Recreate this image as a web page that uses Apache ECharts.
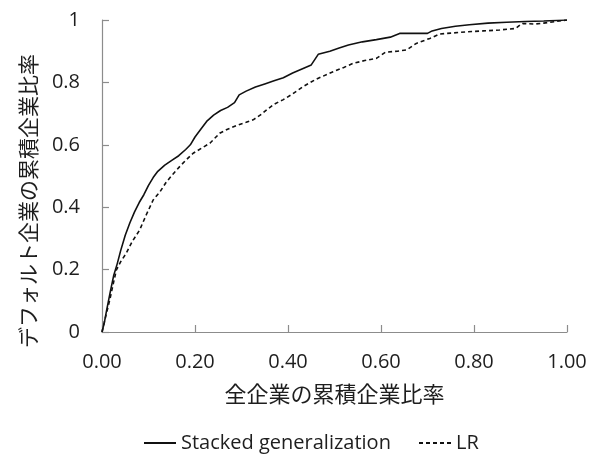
<!DOCTYPE html>
<html>
<head>
<meta charset="utf-8">
<script src="https://cdn.jsdelivr.net/npm/echarts@6/dist/echarts.min.js"></script>
<style>
  html, body { margin: 0; padding: 0; background: #fff; }
  #chart { width: 595px; height: 454px; }
</style>
</head>
<body>
<div id="chart"></div>
<script>
// Cumulative accuracy profile: share of all firms (x) vs share of defaulted firms (y)
const xTicks = [0, 0.2, 0.4, 0.6, 0.8, 1.0];
const yTicks = [0, 0.2, 0.4, 0.6, 0.8, 1.0];

const stackedX = [0, 0.005, 0.01, 0.018, 0.025, 0.033, 0.04, 0.05, 0.06, 0.07, 0.08, 0.09, 0.10, 0.11, 0.12, 0.135, 0.15, 0.165, 0.18, 0.19, 0.20, 0.21, 0.225, 0.24, 0.255, 0.27, 0.285, 0.295, 0.31, 0.33, 0.35, 0.37, 0.39, 0.41, 0.43, 0.45, 0.465, 0.49, 0.51, 0.53, 0.56, 0.59, 0.62, 0.64, 0.67, 0.70, 0.71, 0.73, 0.76, 0.79, 0.83, 0.87, 0.91, 0.95, 1.0];
const stackedY = [0, 0.03, 0.07, 0.13, 0.18, 0.22, 0.26, 0.31, 0.35, 0.385, 0.415, 0.44, 0.47, 0.495, 0.515, 0.535, 0.55, 0.565, 0.585, 0.60, 0.625, 0.645, 0.675, 0.695, 0.71, 0.72, 0.735, 0.76, 0.772, 0.785, 0.795, 0.805, 0.815, 0.83, 0.843, 0.856, 0.89, 0.90, 0.91, 0.92, 0.93, 0.937, 0.945, 0.957, 0.957, 0.957, 0.965, 0.973, 0.98, 0.985, 0.99, 0.993, 0.995, 0.997, 1.0];

const lrX = [0, 0.008, 0.017, 0.025, 0.031, 0.04, 0.052, 0.065, 0.081, 0.095, 0.11, 0.125, 0.138, 0.152, 0.167, 0.18, 0.196, 0.215, 0.232, 0.253, 0.27, 0.29, 0.31, 0.325, 0.34, 0.354, 0.37, 0.389, 0.41, 0.432, 0.46, 0.497, 0.52, 0.54, 0.565, 0.59, 0.61, 0.635, 0.655, 0.676, 0.705, 0.726, 0.75, 0.784, 0.82, 0.855, 0.89, 0.9, 0.905, 0.93, 0.95, 0.975, 1.0];
const lrY = [0, 0.05, 0.105, 0.16, 0.199, 0.225, 0.252, 0.29, 0.327, 0.375, 0.423, 0.45, 0.48, 0.505, 0.53, 0.55, 0.573, 0.59, 0.605, 0.637, 0.65, 0.662, 0.672, 0.68, 0.695, 0.712, 0.73, 0.744, 0.763, 0.786, 0.81, 0.834, 0.848, 0.861, 0.87, 0.877, 0.897, 0.9, 0.904, 0.925, 0.941, 0.955, 0.958, 0.962, 0.965, 0.968, 0.973, 0.985, 0.989, 0.987, 0.99, 0.995, 1.0];

const zip = (xs, ys) => xs.map((x, i) => [x, ys[i]]);

const latin = '"Open Sans", "Noto Sans", sans-serif';
const cjk = '"Noto Sans CJK JP", "Noto Sans", sans-serif';
const axisGray = '#8c8c8c';
const textColor = '#1e1e1e';

const legendText = { fontFamily: latin, fontSize: 20, color: textColor };

const chart = echarts.init(document.getElementById('chart'));
chart.setOption({
  animation: false,
  backgroundColor: '#fff',
  grid: { left: 102, right: 28, top: 20, bottom: 122, containLabel: false },
  xAxis: {
    type: 'value',
    min: xTicks[0], max: xTicks[xTicks.length - 1], interval: 0.2,
    name: '全企業の累積企業比率',
    nameLocation: 'middle', nameGap: 51,
    nameTextStyle: { fontFamily: cjk, fontSize: 22, color: textColor },
    axisLine: { show: true, lineStyle: { color: axisGray, width: 1.2 } },
    axisTick: { show: true, inside: true, length: 7, lineStyle: { color: axisGray, width: 1.2 } },
    splitLine: { show: false },
    axisLabel: { fontFamily: latin, fontSize: 20, color: textColor, margin: 20,
      formatter: v => v.toFixed(2) }
  },
  yAxis: {
    type: 'value',
    min: yTicks[0], max: yTicks[yTicks.length - 1], interval: 0.2,
    axisLine: { show: true, lineStyle: { color: axisGray, width: 1.2 } },
    axisTick: { show: true, inside: true, length: 7, lineStyle: { color: axisGray, width: 1.2 } },
    splitLine: { show: false },
    axisLabel: { fontFamily: latin, fontSize: 20, color: textColor, margin: 22,
      formatter: v => String(parseFloat(v.toFixed(1))) }
  },
  // vertical y-axis title, set slightly below the plot's centre line
  graphic: [{
    type: 'text',
    x: 28, y: 201,
    rotation: Math.PI / 2,
    style: {
      text: 'デフォルト企業の累積企業比率',
      font: '21px "Noto Sans CJK JP", sans-serif',
      fill: textColor,
      align: 'center',
      verticalAlign: 'middle'
    }
  }],
  legend: [
    { data: ['Stacked generalization'], left: 138, top: 428, itemWidth: 32, itemHeight: 14,
      itemStyle: { opacity: 0 }, textStyle: legendText },
    { data: ['LR'], left: 413, top: 428, itemWidth: 32, itemHeight: 14,
      itemStyle: { opacity: 0 }, textStyle: legendText }
  ],
  series: [
    { name: 'Stacked generalization', type: 'line', data: zip(stackedX, stackedY),
      symbol: 'none', smooth: false,
      lineStyle: { color: '#111', width: 1.6, type: 'solid' }, itemStyle: { color: '#111' } },
    { name: 'LR', type: 'line', data: zip(lrX, lrY),
      symbol: 'none', smooth: false,
      lineStyle: { color: '#111', width: 1.6, type: [4, 3] }, itemStyle: { color: '#111' } }
  ]
});
</script>
</body>
</html>
